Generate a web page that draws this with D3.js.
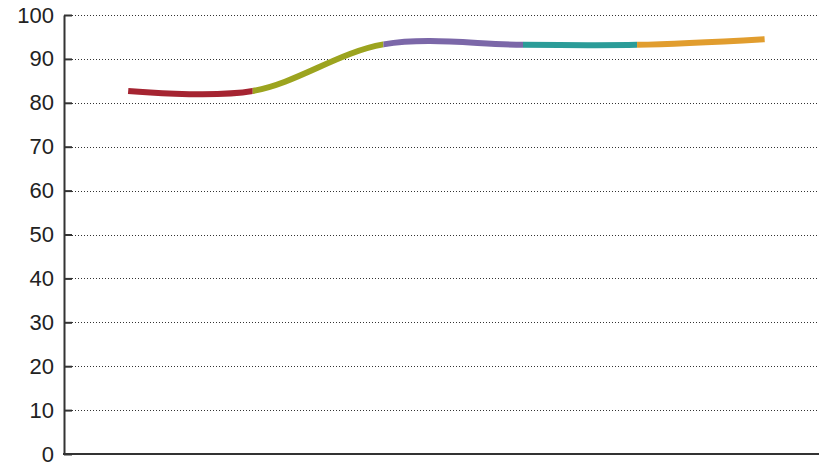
<!DOCTYPE html>
<html><head><meta charset="utf-8">
<script src="https://cdn.jsdelivr.net/npm/d3@7"></script>
<style>body{margin:0;background:#fff}svg{display:block}</style>
</head><body>
<script>
// Data
const xPositions = [8.5, 25.0, 42.3, 60.8, 75.9, 92.8];
const values = [82.7, 82.7, 93.3, 93.2, 93.2, 94.5];
const segmentColors = ["#a52431", "#9ca41f", "#7b67a8", "#2b9c98", "#e19d2e"];
const yTicks = [0, 10, 20, 30, 40, 50, 60, 70, 80, 90, 100];

const W = 819, H = 466;
const m = {left: 64, right: 0, top: 15, bottom: 12};
const svg = d3.select("body").append("svg").attr("width", W).attr("height", H);

const x = d3.scaleLinear().domain([0, 100]).range([m.left, W - m.right]);
const y = d3.scaleLinear().domain([0, 100]).range([H - m.bottom, m.top]);

// gridlines
svg.append("g").selectAll("line").data(yTicks.filter(d => d > 0)).join("line")
  .attr("x1", m.left + 8).attr("x2", W)
  .attr("y1", d => Math.round(y(d)) + 0.5).attr("y2", d => Math.round(y(d)) + 0.5)
  .attr("stroke", "#333").attr("stroke-width", 1).attr("stroke-dasharray", "1,2");

// y axis
const yAxis = d3.axisLeft(y).tickValues(yTicks).tickSize(-8).tickPadding(18).tickSizeOuter(0);
const gy = svg.append("g").attr("transform", `translate(${m.left},0)`).call(yAxis);
gy.select(".domain").attr("stroke", "#333").attr("stroke-width", 2);
gy.selectAll(".tick line").attr("stroke", "#333").attr("stroke-width", 2);
gy.selectAll(".tick text").attr("font-family", "Liberation Sans, Arial, sans-serif")
  .attr("font-size", 22).attr("fill", "#222").attr("x", -10);

// x axis line
svg.append("line").attr("x1", m.left - 1).attr("x2", W)
  .attr("y1", y(0)).attr("y2", y(0)).attr("stroke", "#333").attr("stroke-width", 2);

// line, coloured per segment via clip paths
const pts = xPositions.map((d, i) => [d, values[i]]);
const lineGen = d3.line().x(d => x(d[0])).y(d => y(d[1])).curve(d3.curveCatmullRom.alpha(0.5));
const defs = svg.append("defs");
segmentColors.forEach((c, i) => {
  defs.append("clipPath").attr("id", "seg" + i).append("rect")
    .attr("x", x(xPositions[i]) - (i === 0 ? 5 : 0))
    .attr("width", x(xPositions[i + 1]) - x(xPositions[i]) + (i === 0 || i === segmentColors.length - 1 ? 5 : 0))
    .attr("y", 0).attr("height", H);
  svg.append("path").attr("d", lineGen(pts)).attr("fill", "none")
    .attr("stroke", c).attr("stroke-width", 6)
    .attr("clip-path", `url(#seg${i})`);
});
</script>
</body></html>
